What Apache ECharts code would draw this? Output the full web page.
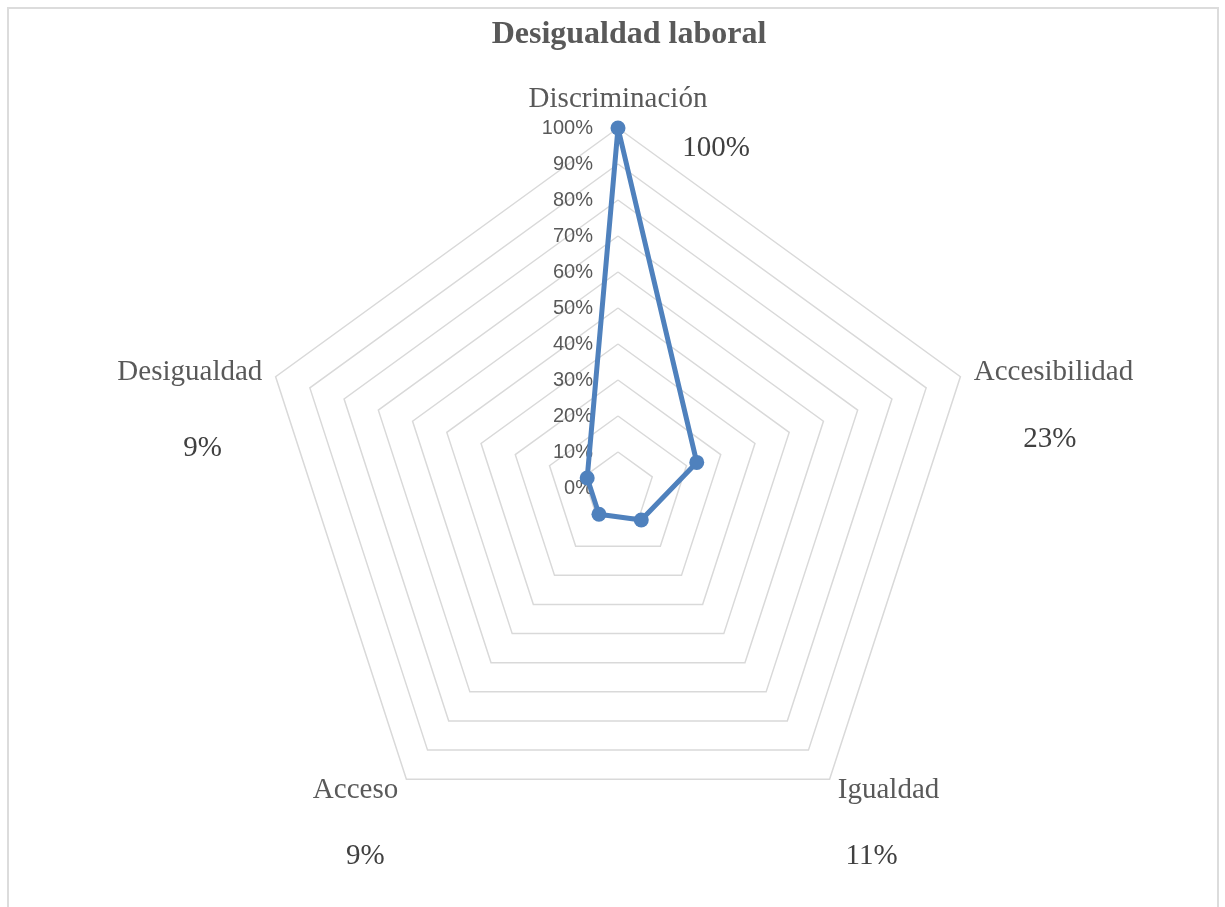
<!DOCTYPE html>
<html>
<head>
<meta charset="utf-8">
<script src="https://cdn.jsdelivr.net/npm/echarts@6/dist/echarts.min.js"></script>
<style>
  html, body { margin: 0; padding: 0; background: #fff; overflow: hidden; }
  #frame { position: absolute; left: 7px; top: 7px; width: 1212px; height: 930px;
           border: 2px solid #dcdcdc; box-sizing: border-box; }
  #chart { position: absolute; left: 0; top: 0; width: 1225px; height: 907px; }
</style>
</head>
<body>
<div id="frame"></div>
<div id="chart"></div>
<script>
const chartTitle = 'Desigualdad laboral';

// ECharts places radar indicators counter-clockwise starting at the top
const categories = ['Discriminación', 'Desigualdad', 'Acceso', 'Igualdad', 'Accesibilidad'];
const values = [100, 9, 9, 11, 23];          // percent
const axisMin = 0;
const axisMax = 100;
const axisStep = 10;

// where each value label sits relative to its axis end (text padding, top-anchored)
const valueLabelPadding = [
  [6, 0, 0, 196],
  [57, 146, 0, 0],
  [63, 82, 0, 0],
  [63, 0, 0, 84],
  [48, 0, 0, 179]
];

const serif = '"Liberation Serif", "Times New Roman", serif';
const sans = '"Liberation Sans", Arial, sans-serif';
const center = [618, 488];
const radius = 360;
const blue = '#4f81bd';

const chart = echarts.init(document.getElementById('chart'), null, { renderer: 'canvas' });

const nameIndicators = categories.map((c, i) => {
  const ind = { name: c, min: axisMin, max: axisMax };
  if (i === 0) {
    ind.axisLabel = {
      show: true,
      formatter: '{value}%',
      color: '#595959',
      fontFamily: sans,
      fontSize: 20,
      margin: 25
    };
  }
  return ind;
});

const valueIndicators = categories.map((c, i) => ({
  name: values[i] + '%',
  min: axisMin,
  max: axisMax,
  nameTextStyle: { padding: valueLabelPadding[i] }
}));

const option = {
  animation: false,
  backgroundColor: 'transparent',
  title: {
    text: chartTitle,
    left: 624,
    top: 14,
    textAlign: 'center',
    textStyle: { fontFamily: serif, fontSize: 32, fontWeight: 'bold', color: '#595959' }
  },
  radar: [
    {
      center: center,
      radius: radius,
      shape: 'polygon',
      splitNumber: (axisMax - axisMin) / axisStep,
      indicator: nameIndicators,
      axisNameGap: 14,
      axisName: { color: '#595959', fontFamily: serif, fontSize: 29 },
      axisLine: { show: false },
      axisTick: { show: false },
      axisLabel: { show: false },
      splitArea: { show: false },
      splitLine: { show: true, lineStyle: { color: '#d9d9d9', width: 1.5 } }
    },
    {
      center: center,
      radius: radius,
      shape: 'polygon',
      splitNumber: (axisMax - axisMin) / axisStep,
      indicator: valueIndicators,
      axisNameGap: 0,
      axisName: { color: '#404040', fontFamily: serif, fontSize: 29, align: 'center', verticalAlign: 'top' },
      axisLine: { show: false },
      axisTick: { show: false },
      axisLabel: { show: false },
      splitArea: { show: false },
      splitLine: { show: false }
    }
  ],
  series: [
    {
      type: 'radar',
      radarIndex: 0,
      symbol: 'circle',
      symbolSize: 15,
      lineStyle: { color: blue, width: 5 },
      itemStyle: { color: blue },
      data: [{ value: values, name: chartTitle }]
    }
  ]
};

chart.setOption(option);
</script>
</body>
</html>
